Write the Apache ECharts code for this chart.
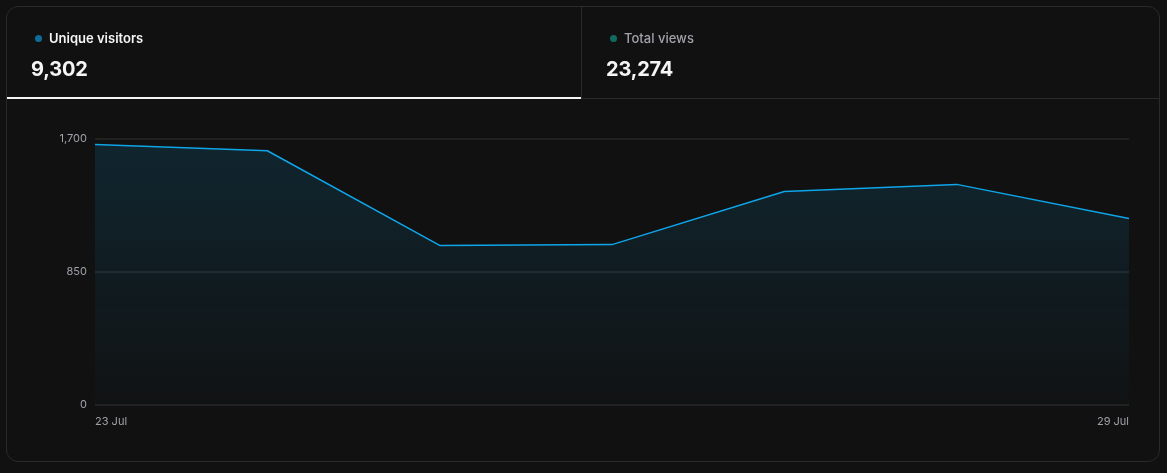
<!DOCTYPE html>
<html>
<head>
<meta charset="utf-8">
<script src="https://cdn.jsdelivr.net/npm/echarts@6/dist/echarts.min.js"></script>
<style>
  html, body { margin: 0; padding: 0; background: #111111; width: 1167px; height: 473px; overflow: hidden; font-family: Inter, "Noto Sans", sans-serif; }
  #card { position: absolute; left: 6px; top: 6px; width: 1152px; height: 454px; border: 1px solid #2a2a2a; border-radius: 12px; box-sizing: content-box; }
  #tabs { position: absolute; left: 0; top: 0; width: 1152px; height: 91px; border-bottom: 1px solid #2a2a2a; }
  .tab { position: absolute; top: 0; height: 91px; }
  #tab1 { left: 0; width: 574px; border-right: 1px solid #2a2a2a; }
  #tab1::after { content: ""; position: absolute; left: 0; right: 0; bottom: -1px; height: 2px; background: #f5f5f5; }
  #tab2 { left: 575px; width: 577px; }
  .lbl { position: absolute; top: 22px; font-size: 13px; line-height: 18px; white-space: nowrap; }
  .lbl .dot { display: inline-block; width: 7px; height: 7px; border-radius: 50%; margin-right: 7px; vertical-align: 1px; }
  .num { position: absolute; top: 48px; font-size: 20px; font-weight: 700; color: #f5f5f5; letter-spacing: -0.2px; line-height: 28px; }
  #chart { position: absolute; left: 0; top: 0; width: 1167px; height: 473px; }
</style>
</head>
<body>
<div id="chart"></div>
<div id="card">
  <div id="tabs">
    <div class="tab" id="tab1">
      <div class="lbl" style="left:28px;color:#f5f5f5;font-weight:600;"><span class="dot" style="background:#0c6d99;"></span>Unique visitors</div>
      <div class="num" style="left:24px;">9,302</div>
    </div>
    <div class="tab" id="tab2">
      <div class="lbl" style="left:28px;color:#a1a1aa;font-weight:500;"><span class="dot" style="background:#0f6b5f;"></span>Total views</div>
      <div class="num" style="left:24px;">23,274</div>
    </div>
  </div>
</div>
<script>
const categories = ["23 Jul", "24 Jul", "25 Jul", "26 Jul", "27 Jul", "28 Jul", "29 Jul"];
const uniqueVisitors = [1665, 1625, 1020, 1025, 1365, 1410, 1192];
const yTicks = [0, 850, 1700];

const chart = echarts.init(document.getElementById('chart'), null, { renderer: 'canvas' });
chart.setOption({
  backgroundColor: 'transparent',
  animation: false,
  grid: { left: 95, right: 38, top: 139, bottom: 68, containLabel: false },
  xAxis: {
    type: 'category',
    data: categories,
    boundaryGap: false,
    axisLine: { show: false },
    axisTick: { show: false },
    axisLabel: {
      color: '#a1a1aa', fontSize: 11, fontFamily: 'Inter', margin: 11,
      interval: function (i) { return i === 0 || i === categories.length - 1; },
      alignMinLabel: 'left', alignMaxLabel: 'right'
    },
    splitLine: { show: false }
  },
  yAxis: {
    type: 'value',
    min: yTicks[0], max: yTicks[2], interval: yTicks[1],
    axisLine: { show: false },
    axisTick: { show: false },
    axisLabel: {
      color: '#a1a1aa', fontSize: 11, fontFamily: 'Inter', margin: 8,
      formatter: function (v) { return v.toLocaleString('en-US'); }
    },
    splitLine: { lineStyle: { color: 'rgba(255,255,255,0.07)', width: 2 } }
  },
  series: [{
    type: 'line',
    data: uniqueVisitors,
    symbol: 'none',
    lineStyle: { color: '#0ea5e9', width: 1.5 },
    areaStyle: {
      color: new echarts.graphic.LinearGradient(0, 0, 0, 1, [
        { offset: 0, color: 'rgba(14,165,233,0.2)' },
        { offset: 1, color: 'rgba(14,165,233,0.02)' }
      ])
    }
  }]
});
</script>
</body>
</html>
